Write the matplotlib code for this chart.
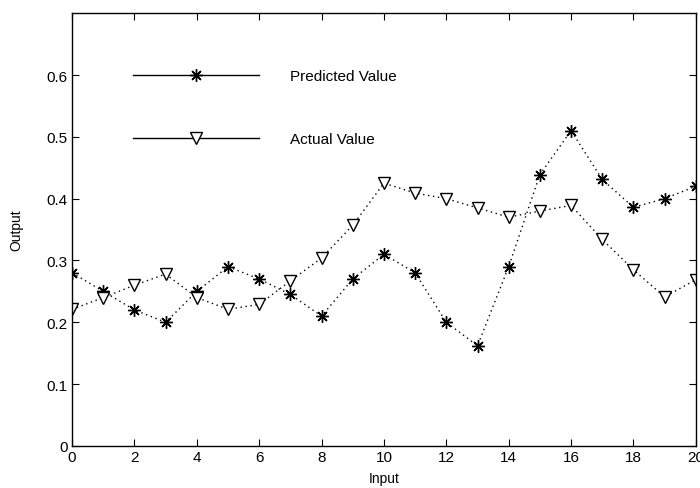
import matplotlib
matplotlib.use("Agg")
import matplotlib.pyplot as plt
from matplotlib.lines import Line2D

plt.rcParams["font.family"] = ["Liberation Sans", "DejaVu Sans"]

inputs = list(range(21))
predicted = [0.28, 0.25, 0.22, 0.20, 0.25, 0.29, 0.27, 0.245, 0.21, 0.27, 0.31,
             0.28, 0.20, 0.162, 0.29, 0.439, 0.51, 0.431, 0.386, 0.40, 0.42]
actual = [0.221, 0.24, 0.26, 0.278, 0.24, 0.221, 0.229, 0.267, 0.304, 0.357, 0.425,
          0.409, 0.40, 0.385, 0.37, 0.38, 0.389, 0.334, 0.285, 0.241, 0.269]
labels = ["Predicted Value", "Actual Value"]

fig = plt.figure(figsize=(7, 4.89), dpi=100)
ax = fig.add_axes([0.103, 0.086, 0.891, 0.885])

star = dict(marker=(8, 2, 0), markersize=9, markeredgewidth=1.0, color="black")
tri = dict(marker="v", markersize=9, markerfacecolor="white", markeredgecolor="black",
           markeredgewidth=1.0, color="black")

dots = (0, (1, 2.6))
ax.plot(inputs, predicted, linestyle=dots, linewidth=1.0, **star)
ax.plot(inputs, actual, linestyle=dots, linewidth=1.0, **tri)

ax.set_xlim(0, 20)
ax.set_ylim(0, 0.7)
ax.set_xticks(range(0, 21, 2))
ax.set_yticks([0, 0.1, 0.2, 0.3, 0.4, 0.5, 0.6])
ax.set_yticklabels(["0", "0.1", "0.2", "0.3", "0.4", "0.5", "0.6"])
ax.tick_params(direction="in", top=True, right=True, length=5, labelsize=11, pad=3)
for s in ax.spines.values():
    s.set_linewidth(1.0)
ax.set_xlabel("Input", fontsize=10, labelpad=5)
ax.set_ylabel("Output", fontsize=10, labelpad=17)

handles = [Line2D([0], [0], linestyle="-", linewidth=1.0, **star),
           Line2D([0], [0], linestyle="-", linewidth=1.0, **tri)]
ax.legend(handles, labels, loc="upper left", bbox_to_anchor=(0.098, 0.871),
          frameon=False, fontsize=11, handlelength=8.25, handletextpad=2.0,
          labelspacing=3.23, borderpad=0, borderaxespad=0, numpoints=1)

fig.savefig("out.png", dpi=100)
